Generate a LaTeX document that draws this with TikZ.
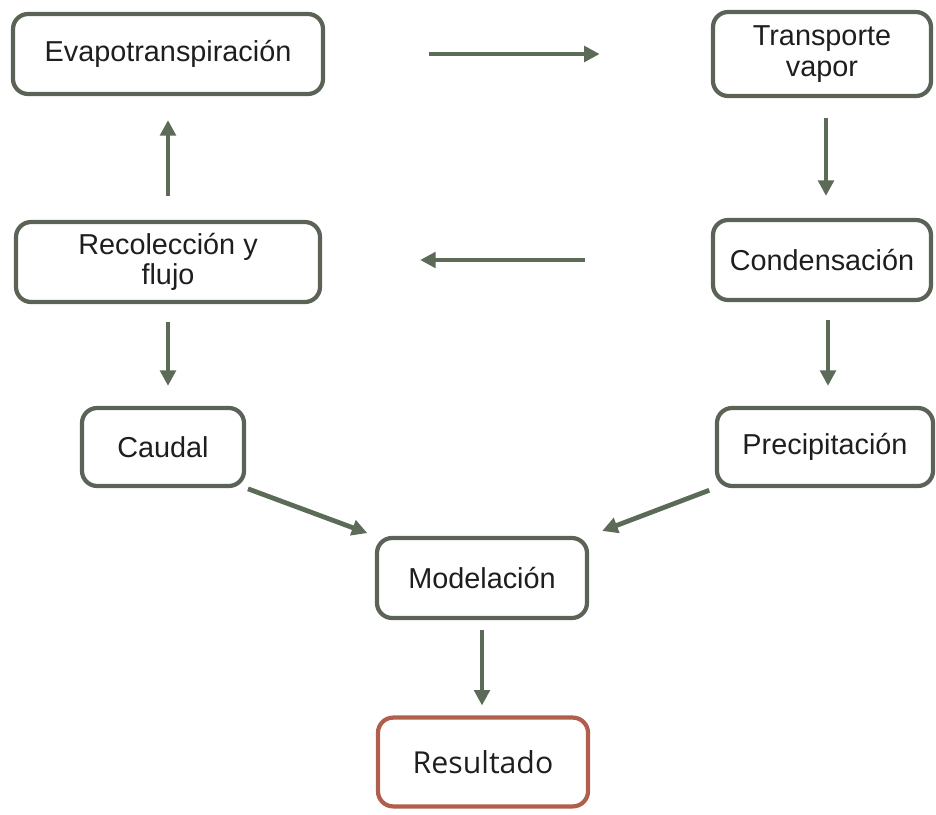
\documentclass[tikz,border=0pt]{standalone}
\usepackage{fontspec}
\setmainfont{Liberation Sans}
\newfontfamily\resfont{Open Sans}
\usetikzlibrary{arrows.meta}
\definecolor{boxline}{HTML}{5A6356}
\definecolor{arrline}{HTML}{5C6B58}
\definecolor{resline}{HTML}{B05F4C}
\definecolor{txt}{HTML}{1E1E1E}

\begin{document}
\begin{tikzpicture}[x=0.025cm, y=-0.025cm,
    box/.style = {draw=boxline, line width=3pt, rounded corners=0.38cm,
        align=center, text=txt, font=\fontsize{20.5}{21.5}\selectfont, inner sep=2pt},
    res/.style = {box, draw=resline, font=\resfont\fontsize{21.5}{26}\selectfont},
    flow/.style = {draw=arrline, line width=3.4pt,
        -{Triangle[length=11pt, width=11pt]}}]
\useasboundingbox (0,0) rectangle (936,815);
\node[box, minimum width=7.75cm, minimum height=2.0cm] (evap) at (168,54) {Evapotranspiración};
\node[box, minimum width=5.45cm, minimum height=2.1cm] (tv) at (822,54) {Transporte\\vapor};
\node[box, minimum width=7.6cm, minimum height=2.0cm] (rec) at (168,262) {Recolección y\\flujo};
\node[box, minimum width=5.45cm, minimum height=2.0cm] (cond) at (822,260) {Condensación};
\node[box, minimum width=4.05cm, minimum height=1.95cm] (caudal) at (163,447) {Caudal};
\node[box, minimum width=5.4cm, minimum height=1.95cm] (prec) at (825,447) {Precipitación};
\node[box, minimum width=5.25cm, minimum height=2.0cm] (model) at (482,578) {Modelación};
\node[res, minimum width=5.25cm, minimum height=2.22cm] (result) at (483,762) {Resultado};

\draw[flow, shorten <=2.6cm, shorten >=2.78cm] (evap) -- (tv);
\draw[flow, shorten <=0.5cm, shorten >=0.55cm] ([xshift=0.1cm]tv.south) -- ([xshift=0.1cm]cond.north);
\draw[flow, shorten <=3.15cm, shorten >=2.45cm] (cond.west) -- (cond.west -| rec.east);
\draw[flow, shorten <=0.6cm, shorten >=0.6cm] (rec.north) -- (evap.south);
\draw[flow, shorten <=0.45cm, shorten >=0.5cm] (rec.south) -- (rec.south |- caudal.north);
\draw[flow, shorten <=0.45cm, shorten >=0.5cm] ([xshift=0.15cm]cond.south) -- ([xshift=0.15cm]cond.south |- prec.north);
\draw[flow, shorten <=0.05cm, shorten >=0.2cm] (caudal.south east) -- (model.north west);
\draw[flow, shorten <=0.15cm, shorten >=0.35cm] (prec.south west) -- (model.north east);
\draw[flow, shorten <=0.25cm, shorten >=0.25cm] (model.south) -- (model.south |- result.north);
\end{tikzpicture}
\end{document}
